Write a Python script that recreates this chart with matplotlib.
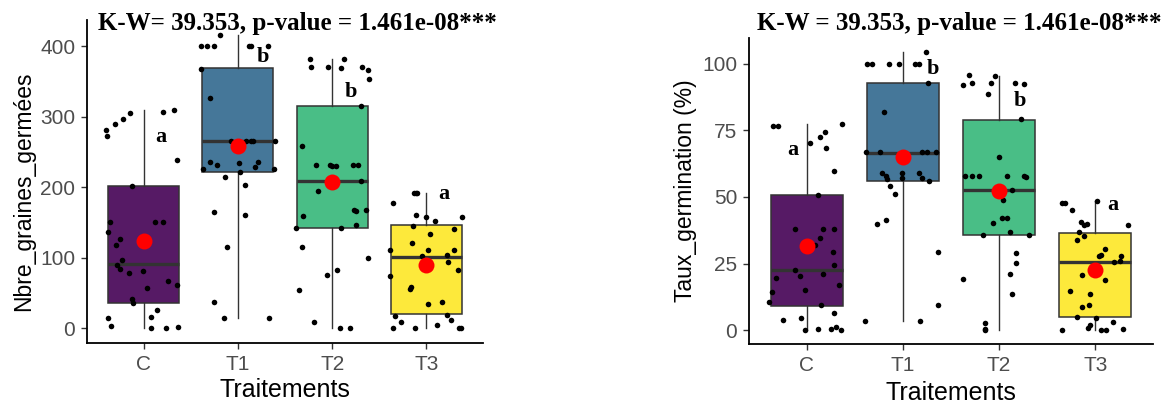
import matplotlib
matplotlib.use("Agg")
import matplotlib.pyplot as plt
import numpy as np

# categories and group colours (viridis, 4 levels)
groups = ["C", "T1", "T2", "T3"]
fill_colors = ["#440154", "#31688E", "#35B779", "#FDE725"]
letters = ["a", "b", "b", "a"]

# ---- Nbre_graines_germées : box statistics ----
nbre_q1 = [35, 222, 142, 20]
nbre_med = [91, 265, 209, 101]
nbre_q3 = [201, 369, 315, 146]
nbre_lo = [0, 14, 0, 0]
nbre_hi = [309, 416, 381, 192]
nbre_mean = [123, 258, 207, 89]

# raw (jittered) observations
nbre_C = [281, 273, 289, 296, 305, 306, 309, 238, 202, 150, 150, 150, 137, 126, 118, 97,
          90, 84, 78, 81, 67, 61, 57, 42, 36, 26, 16, 15, 3, 0, 0, 2]
nbre_C_jit = [-0.40, -0.39, -0.30, -0.22, -0.14, 0.21, 0.32, 0.36, -0.12, -0.36, 0.12, 0.21,
              -0.38, -0.25, -0.29, -0.23, -0.28, -0.25, -0.15, -0.01, 0.26, 0.36, 0.04, -0.12,
              -0.11, 0.14, 0.08, -0.38, -0.35, 0.08, 0.24, 0.37]
nbre_T1 = [416, 400, 400, 400, 400, 400, 400, 368, 327, 265, 265, 265, 265, 265, 235, 231,
           234, 235, 229, 226, 222, 226, 215, 203, 165, 160, 115, 37, 14, 15]
nbre_T1_jit = [-0.19, -0.39, -0.33, -0.25, 0.12, 0.14, 0.32, -0.39, -0.30, -0.07, 0.09, 0.14,
               0.16, 0.39, -0.30, -0.22, 0.01, 0.21, 0.18, -0.37, 0.02, 0.38, -0.14, 0.08,
               -0.25, 0.08, -0.11, -0.25, -0.15, 0.33]
nbre_T2 = [382, 370, 370, 369, 381, 371, 366, 354, 315, 259, 232, 232, 230, 230, 232, 232,
           209, 194, 159, 167, 166, 167, 146, 142, 142, 115, 100, 83, 75, 54, 9, 0, 0]
nbre_T2_jit = [-0.24, -0.22, -0.04, 0.09, 0.13, 0.32, 0.38, 0.39, 0.31, -0.32, -0.17, -0.02,
               0.0, 0.04, 0.22, 0.27, 0.31, -0.15, -0.31, 0.23, 0.25, 0.36, 0.25, -0.38, 0.09,
               -0.32, 0.38, 0.05, -0.05, -0.35, -0.19, 0.08, 0.19]
nbre_T3 = [191, 191, 191, 178, 161, 157, 152, 157, 145, 140, 134, 121, 111, 111, 111, 104,
           102, 94, 82, 74, 56, 58, 37, 34, 19, 17, 12, 9, 4, 0, 0, 0, 0]
nbre_T3_jit = [-0.13, -0.11, -0.10, -0.35, -0.11, -0.01, 0.09, 0.38, -0.14, 0.29, 0.04, -0.15,
               -0.39, 0.02, 0.29, 0.22, -0.05, 0.23, 0.33, -0.39, -0.17, -0.16, 0.17, 0.02,
               0.22, -0.33, 0.26, -0.27, 0.11, -0.35, -0.12, 0.35, 0.37]

# ---- Taux_germination (%) : box statistics ----
taux_q1 = [9.0, 55.8, 35.8, 5.0]
taux_med = [22.7, 66.5, 52.7, 25.6]
taux_q3 = [50.8, 92.6, 78.9, 36.5]
taux_lo = [0, 3.5, 0, 0]
taux_hi = [77.4, 104.5, 95.5, 48.3]
taux_mean = [31.4, 64.9, 52.2, 22.5]

taux_C = [76.5, 76.5, 77.4, 74.5, 72.4, 70.3, 68.4, 59.7, 50.8, 37.8, 37.8, 37.8, 34.6, 31.8,
          29.3, 24.6, 22.7, 21.2, 20.3, 19.7, 16.9, 15.2, 14.3, 10.6, 9.6, 6.5, 4.4, 3.7,
          0, 0.3, 0.4, 1.0, 0]
taux_C_jit = [-0.35, -0.30, 0.37, 0.19, 0.14, 0.03, 0.20, 0.28, 0.12, -0.12, 0.17, 0.28, 0.14,
              0.09, 0.27, 0.28, -0.12, 0.17, -0.07, -0.32, 0.34, -0.02, -0.36, -0.39, 0.15,
              0.28, -0.06, -0.25, -0.02, 0.12, 0.25, 0.30, 0.36]
taux_T1 = [104.5, 100, 100, 100, 100, 100, 100, 92.6, 82, 66.8, 66.8, 66.8, 66.8, 66.8, 58.9,
           58.0, 56.8, 59.1, 57.2, 58.9, 57.1, 55.8, 54.0, 50.9, 39.9, 41.4, 29.3, 9.4, 3.5, 3.5]
taux_T1_jit = [0.24, -0.37, -0.32, -0.14, -0.04, 0.13, 0.17, 0.26, -0.20, -0.38, -0.24, 0.20,
               0.25, 0.34, -0.22, -0.18, -0.16, -0.01, -0.01, 0.17, 0.20, 0.27, -0.13, -0.08,
               -0.27, -0.18, 0.37, 0.37, -0.39, 0.18]
taux_T2 = [95.8, 95.4, 92.0, 92.7, 92.7, 92.6, 92.4, 88.6, 79.2, 64.9, 58.0, 58.0, 58.0, 58.0,
           58.0, 57.4, 52.7, 48.7, 41.9, 41.9, 40.2, 36.8, 35.8, 35.8, 28.9, 25.2, 21.2, 19.1,
           13.7, 2.5, 0.6, 0]
taux_T2_jit = [-0.31, -0.04, -0.38, -0.28, -0.08, 0.17, 0.26, -0.12, 0.23, 0.0, -0.35, -0.28,
               -0.21, 0.08, 0.26, 0.28, 0.13, 0.04, 0.03, 0.08, -0.06, 0.11, -0.17, 0.31, 0.18,
               0.18, 0.11, -0.37, 0.13, -0.15, -0.15, -0.15]
taux_T3 = [47.7, 47.7, 48.3, 44.9, 40.6, 39.6, 40.0, 39.3, 36.8, 35.3, 33.7, 30.6, 27.8, 28.1,
           27.8, 25.6, 25.8, 20.6, 18.7, 14.7, 13.5, 9.4, 8.7, 5.0, 4.4, 3.1, 1.9, 0.9,
           0, 0, 0, 0.3]
taux_T3_jit = [-0.35, -0.32, 0.02, -0.24, -0.15, -0.12, -0.09, 0.34, -0.17, -0.12, -0.19, 0.10,
               0.04, 0.06, 0.27, 0.19, 0.26, -0.14, 0.10, -0.26, -0.05, -0.07, -0.14, -0.19,
               0.01, 0.18, -0.06, -0.08, -0.35, 0.06, 0.11, 0.29]

title_left = "K-W= 39.353, p-value = 1.461e-08***"
title_right = "K-W = 39.353, p-value = 1.461e-08***"

plt.rcParams['font.family'] = ['Liberation Sans', 'DejaVu Sans']


def draw_panel(ax, q1, med, q3, lo, hi, mean, points, jits, letter_pos,
               ylabel, yticks, ylim):
    pos = np.arange(1, len(groups) + 1)
    stats = []
    for i in range(len(groups)):
        stats.append({'q1': q1[i], 'med': med[i], 'q3': q3[i],
                      'whislo': lo[i], 'whishi': hi[i], 'fliers': []})
    bp = ax.bxp(stats, positions=pos, widths=0.75, patch_artist=True,
                showcaps=False, showfliers=False,
                boxprops=dict(edgecolor='#333333', linewidth=1.1),
                whiskerprops=dict(color='#333333', linewidth=1.0),
                medianprops=dict(color='#333333', linewidth=2.4))
    for patch, c in zip(bp['boxes'], fill_colors):
        r, g, b = matplotlib.colors.to_rgb(c)
        patch.set_facecolor((r, g, b, 0.9))

    for i, (vals, jit) in enumerate(zip(points, jits)):
        ax.plot(pos[i] + np.array(jit), vals, 'o', color='black', markersize=4,
                markeredgewidth=0, zorder=4)
    ax.plot(pos, mean, 'o', color='red', markersize=11.5, markeredgewidth=0, zorder=5)

    for i, (dx, y) in enumerate(letter_pos):
        ax.text(pos[i] + dx, y, letters[i], ha='center', va='center',
                family='Liberation Serif', fontweight='bold', fontsize=16, zorder=6)

    ax.set_xlim(0.4, 4.6)
    ax.set_ylim(*ylim)
    ax.set_xticks(pos)
    ax.set_xticklabels(groups)
    ax.set_yticks(yticks)
    for s in ['top', 'right']:
        ax.spines[s].set_visible(False)
    for s in ['left', 'bottom']:
        ax.spines[s].set_linewidth(1.3)
        ax.spines[s].set_color('black')
    ax.tick_params(axis='both', colors='#333333', labelcolor='#4D4D4D',
                   labelsize=15, length=4.5, width=1.0, pad=4)
    ax.set_ylabel(ylabel, fontsize=16.5, color='black')
    ax.set_xlabel("Traitements", fontsize=18, color='black')


fig = plt.figure(figsize=(11.75, 4.03), dpi=100)

ax1 = fig.add_axes([0.0740, 0.1489, 0.3371, 0.8015])
draw_panel(ax1, nbre_q1, nbre_med, nbre_q3, nbre_lo, nbre_hi, nbre_mean,
           [nbre_C, nbre_T1, nbre_T2, nbre_T3],
           [nbre_C_jit, nbre_T1_jit, nbre_T2_jit, nbre_T3_jit],
           [(0.18, 271), (0.26, 385), (0.20, 335), (0.18, 190)],
           "Nbre_graines_germées", [0, 100, 200, 300, 400], (-21, 437))
ax1.yaxis.set_label_coords(-0.131, 0.47)
ax1.xaxis.set_label_coords(0.5, -0.108)

ax2 = fig.add_axes([0.6374, 0.1464, 0.3439, 0.7593])
draw_panel(ax2, taux_q1, taux_med, taux_q3, taux_lo, taux_hi, taux_mean,
           [taux_C, taux_T1, taux_T2, taux_T3],
           [taux_C_jit, taux_T1_jit, taux_T2_jit, taux_T3_jit],
           [(-0.14, 67.7), (0.31, 98), (0.22, 86), (0.18, 46.8)],
           "Taux_germination (%)", [0, 25, 50, 75, 100], (-5.2, 109.6))
ax2.yaxis.set_label_coords(-0.129, 0.5)
ax2.xaxis.set_label_coords(0.5, -0.121)

fig.text(0.2532, 0.942, title_left, ha='center', va='center',
         family='Liberation Serif', fontweight='bold', fontsize=18)
fig.text(0.816, 0.942, title_right, ha='center', va='center',
         family='Liberation Serif', fontweight='bold', fontsize=18)

fig.savefig("out.png", dpi=100)
